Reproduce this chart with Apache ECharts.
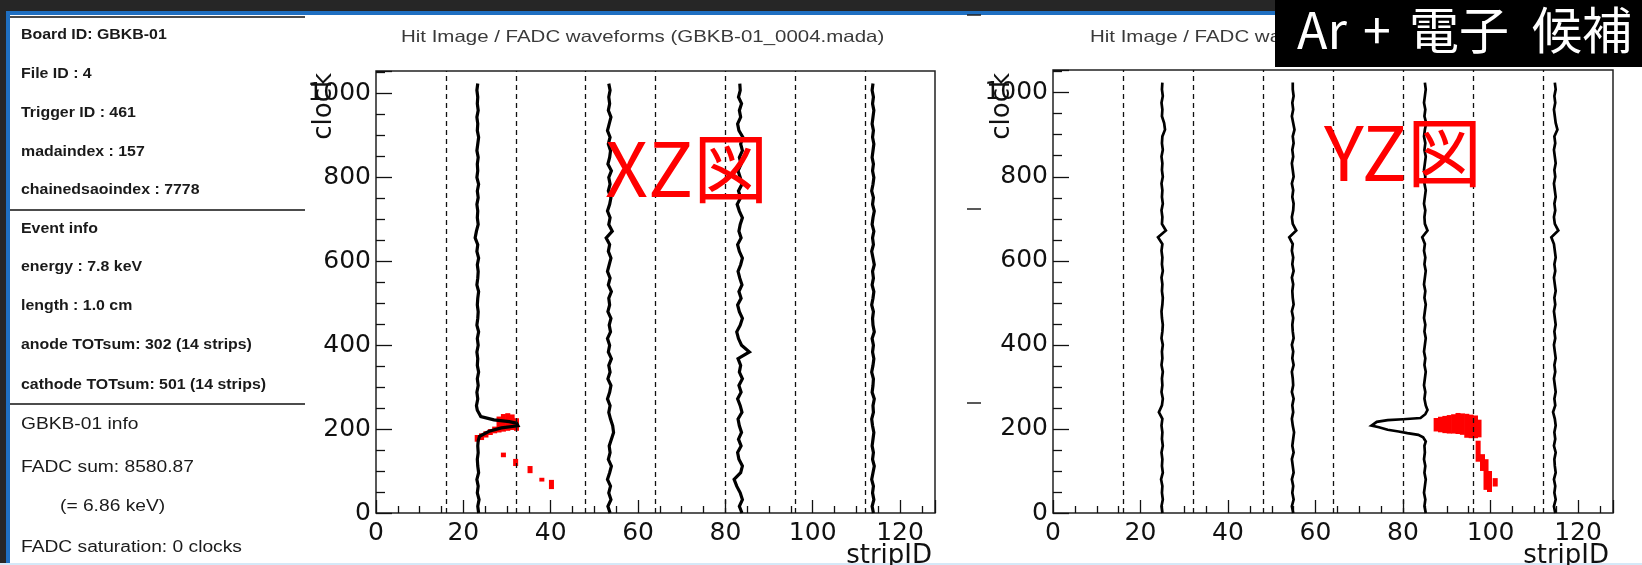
<!DOCTYPE html>
<html>
<head>
<meta charset="utf-8">
<script src="https://cdn.jsdelivr.net/npm/echarts@6/dist/echarts.min.js"></script>
<style>
html, body { margin: 0; padding: 0; background: #fff; }
#main { width: 1642px; height: 565px; }
</style>
</head>
<body>
<div id="main"></div>
<script>
// FADC sample clocks (every 16 clocks)
const waveClock = [0, 16, 32, 48, 64, 80, 96, 112, 128, 144, 160, 176, 192, 208, 224, 240, 256,
  272, 288, 304, 320, 336, 352, 368, 384, 400, 416, 432, 448, 464, 480, 496, 512,
  528, 544, 560, 576, 592, 608, 624, 640, 656, 672, 688, 704, 720, 736, 752, 768,
  784, 800, 816, 832, 848, 864, 880, 896, 912, 928, 944, 960, 976, 992, 1008, 1024];

// XZ waveforms: strip position of the trace at each clock
const xzWave1 = [23.5, 23.3, 23.6, 23.2, 23.4, 23.1, 23.5, 23.3, 23.2, 23.4,
  23.3, 23.3, 23.3, 23.3, 23.3, 23.3, 23.0, 23.3, 23.1, 23.4,
  23.2, 23.5, 23.2, 23.3, 23.1, 23.4, 23.2, 23.5, 23.1, 23.3,
  23.4, 23.2, 23.3, 23.5, 23.1, 23.3, 23.4, 23.2, 23.5, 23.1,
  23.3, 22.7, 23.0, 23.4, 23.2, 23.3, 23.1, 23.4, 23.2, 23.5,
  23.1, 23.3, 23.2, 23.4, 23.1, 23.3, 23.5, 23.2, 23.3, 23.1,
  23.4, 23.2, 23.3, 23.1, 23.3];
const xzWave2 = [53.6, 53.1, 53.8, 53.3, 53.7, 53.0, 53.5, 53.9, 53.2, 53.6,
  53.4, 53.9, 54.4, 54.2, 53.7, 53.3, 53.6, 53.0, 53.5, 53.8,
  53.1, 53.6, 53.3, 53.9, 53.2, 53.5, 53.0, 53.7, 53.4, 53.8,
  53.1, 53.5, 53.3, 53.9, 53.2, 53.6, 53.0, 53.4, 53.8, 53.2,
  53.5, 52.7, 54.1, 53.3, 53.6, 53.0, 53.5, 53.8, 53.2, 53.6,
  53.3, 53.9, 53.1, 53.5, 53.7, 53.2, 53.6, 53.0, 53.4, 53.8,
  53.2, 53.5, 53.3, 53.6, 53.3];
const xzWave3 = [83.8, 83.2, 83.9, 83.4, 82.6, 82.0, 83.5, 83.9, 83.1, 82.8,
  83.6, 83.0, 83.7, 83.2, 82.9, 83.8, 83.4, 82.8, 83.6, 83.1,
  83.9, 83.2, 83.5, 82.9, 85.5, 83.7, 83.0, 82.6, 83.4, 83.9,
  83.2, 82.8, 83.6, 83.1, 83.8, 83.3, 82.9, 83.5, 83.9, 83.2,
  82.8, 83.6, 83.1, 83.4, 83.9, 83.2, 82.7, 83.5, 83.0, 83.8,
  83.4, 82.9, 83.6, 83.2, 83.9, 83.5, 84.0, 83.1, 82.8, 83.5,
  83.2, 83.7, 83.0, 83.4, 83.3];
const xzWave4 = [113.9, 113.6, 114.0, 113.7, 113.9, 113.5, 113.8, 114.1, 113.7, 113.9,
  113.6, 113.8, 114.0, 113.7, 113.5, 113.9, 113.8, 114.1, 113.6, 113.8,
  113.9, 113.5, 113.8, 114.0, 113.7, 113.9, 113.6, 114.1, 113.8, 113.7,
  113.9, 113.5, 113.8, 114.0, 113.6, 113.9, 113.7, 114.1, 113.8, 113.5,
  113.9, 113.7, 114.0, 113.6, 113.8, 114.1, 113.7, 113.9, 113.5, 113.8,
  114.0, 113.7, 113.9, 113.6, 113.8, 114.0, 113.7, 113.9, 113.6, 113.8,
  114.0, 113.7, 113.9, 113.6, 113.8];
// pulse on the first XZ trace [strip, clock]
const xzPulse = [[23.3, 160], [23.4, 172], [23.7, 183], [25.9, 195], [28.7, 203], [32.5, 208], [32.2, 214],
  [30.5, 218], [27.0, 222], [24.0, 230], [23.2, 245], [23.0, 256]];

// YZ waveforms
const yzWave1 = [25.0, 24.8, 25.1, 24.9, 25.0, 24.7, 25.1, 24.9, 25.0, 24.8,
  25.1, 24.9, 25.0, 24.8, 25.0, 24.2, 24.9, 25.1, 24.8, 25.0,
  24.9, 25.1, 24.8, 25.0, 24.9, 25.1, 24.8, 25.0, 25.1, 24.9,
  24.8, 25.0, 25.1, 24.9, 25.0, 24.8, 25.1, 24.9, 25.0, 24.8,
  25.0, 24.0, 25.8, 24.9, 25.0, 24.8, 25.1, 24.9, 25.0, 24.8,
  25.1, 24.9, 25.0, 24.8, 25.1, 24.9, 25.0, 25.6, 25.4, 24.9,
  25.0, 24.8, 25.1, 24.9, 25.0];
const yzWave2 = [54.9, 54.6, 55.0, 54.7, 54.9, 54.6, 55.0, 54.8, 54.6, 55.0,
  54.7, 54.9, 55.1, 54.8, 54.6, 54.9, 54.7, 55.0, 54.6, 54.9,
  54.8, 54.6, 55.0, 54.7, 54.9, 54.6, 55.0, 54.8, 54.7, 54.9,
  54.6, 55.0, 54.8, 54.7, 54.9, 54.6, 55.0, 54.7, 54.9, 54.6,
  54.8, 54.0, 55.6, 54.8, 54.6, 54.9, 55.0, 54.7, 54.9, 54.6,
  55.0, 54.8, 54.6, 54.9, 54.7, 55.0, 54.8, 55.2, 54.9, 54.6,
  54.9, 54.7, 55.0, 54.8, 54.8];
const yzWave3 = [85.2, 84.9, 85.1, 84.8, 85.0, 85.2, 84.9, 85.1, 84.8, 85.0,
  85.0, 85.0, 85.0, 85.0, 85.0, 85.0, 85.2, 84.9, 85.1, 84.8,
  85.0, 85.2, 84.9, 85.1, 84.8, 85.0, 85.2, 84.9, 85.1, 84.8,
  85.0, 85.2, 84.9, 85.1, 84.8, 85.0, 85.2, 84.9, 85.1, 84.8,
  85.0, 84.4, 85.6, 85.0, 84.9, 85.1, 84.8, 85.0, 85.2, 84.9,
  85.1, 84.8, 85.0, 85.2, 84.9, 85.1, 84.8, 85.0, 85.3, 84.9,
  85.1, 84.8, 85.0, 85.2, 85.0];
const yzWave4 = [114.8, 114.5, 114.9, 114.6, 114.8, 114.5, 114.9, 114.7, 114.6, 114.9,
  114.5, 114.8, 114.6, 114.9, 114.7, 114.3, 114.8, 114.6, 114.9, 114.7,
  114.5, 114.8, 114.6, 114.9, 114.7, 114.5, 114.8, 114.6, 114.9, 114.7,
  114.5, 114.8, 114.6, 114.9, 114.7, 114.5, 114.8, 114.6, 114.9, 114.7,
  114.5, 113.9, 115.5, 114.7, 114.5, 114.8, 114.6, 114.9, 114.7, 114.5,
  114.8, 114.6, 114.9, 114.7, 114.5, 114.8, 114.6, 115.3, 114.9, 114.7,
  114.5, 114.8, 114.6, 114.9, 114.7];
const yzPulse = [[84.9, 160], [85.2, 170], [84.6, 180], [83.5, 186], [81.0, 190], [79.0, 194], [76.5, 198],
  [74.5, 204], [72.8, 208], [72.6, 212], [74.0, 217], [76.5, 221], [80.0, 223], [84.0, 226], [85.1, 235],
  [85.6, 245], [85.2, 256]];

// hit boxes [strip, clock from, clock to]
const xzHits = [[22.6, 170, 186], [23.6, 174, 190], [24.6, 180, 195], [25.6, 186, 200], [26.6, 190, 206],
  [27.6, 192, 230], [28.6, 194, 236], [29.6, 196, 238], [30.6, 198, 235], [31.6, 196, 226],
  [28.6, 133, 144], [31.4, 112, 129], [34.7, 95, 112], [37.4, 75, 84], [39.6, 57, 79]];
const yzHits = [[87, 194, 226], [88, 192, 229], [89, 190, 231], [90, 189, 233], [91, 189, 235], [92, 188, 238],
  [93, 186, 237], [94, 179, 236], [95, 178, 234], [96, 178, 232], [96.8, 180, 222],
  [96.6, 122, 172], [97.6, 100, 140], [98.4, 55, 128], [99.2, 50, 100], [100.5, 63, 83]];

const moduleEdges = [16, 32, 48, 64, 80, 96, 112];

const boardLines = ['Board ID: GBKB-01', 'File ID : 4', 'Trigger ID : 461', 'madaindex : 157', 'chainedsaoindex : 7778'];
const eventLines = ['Event info', 'energy : 7.8 keV', 'length : 1.0 cm', 'anode TOTsum: 302 (14 strips)', 'cathode TOTsum: 501 (14 strips)'];
const fadcLines = ['GBKB-01 info', 'FADC sum: 8580.87', '(= 6.86 keV)', 'FADC saturation: 0 clocks'];

const plotTitle = 'Hit Image / FADC waveforms (GBKB-01_0004.mada)';
const badgeParts = ['Ar', '+', '電子', '候補'];

function buildWave(strips, pulse) {
  const lo = pulse ? pulse[0][1] : Infinity;
  const hi = pulse ? pulse[pulse.length - 1][1] : -Infinity;
  const pts = [];
  waveClock.forEach((c, i) => {
    if (c < lo || c > hi) pts.push([strips[i], c]);
  });
  if (pulse) pulse.forEach(p => pts.push(p));
  return pts.sort((a, b) => a[1] - b[1]);
}

const tickStyle = { color: '#111', width: 1.3 };
const labelFont = { fontFamily: 'DejaVu Sans', fontSize: 25, color: '#111' };

function xAxisFor(gi) {
  return {
    type: 'value', gridIndex: gi, min: 0, max: 128, interval: 20,
    axisLine: { show: false },
    axisTick: { inside: true, length: 13, lineStyle: tickStyle },
    minorTick: { show: true, splitNumber: 4, length: 7, lineStyle: tickStyle },
    splitLine: { show: false },
    axisLabel: Object.assign({ margin: 8, showMaxLabel: false,
      formatter: v => (v % 20 === 0 ? String(v) : '') }, labelFont)
  };
}
function yAxisFor(gi) {
  return {
    type: 'value', gridIndex: gi, min: 0, max: 1054, interval: 200,
    axisLine: { show: false },
    axisTick: { inside: true, length: 16, lineStyle: tickStyle },
    minorTick: { show: true, splitNumber: 4, length: 9, lineStyle: tickStyle },
    splitLine: { show: false },
    axisLabel: Object.assign({ margin: 5, showMaxLabel: false,
      formatter: v => (v % 200 === 0 ? String(v) : '') }, labelFont)
  };
}

function waveSeries(gi, data, width, withEdges) {
  const s = {
    type: 'line', xAxisIndex: gi, yAxisIndex: gi, data: data, z: 3,
    showSymbol: false, silent: true, animation: false,
    lineStyle: { color: '#000', width: width, join: 'miter' }
  };
  if (withEdges) {
    s.markLine = {
      silent: true, symbol: ['none', 'none'], label: { show: false }, animation: false,
      lineStyle: { type: [5, 4], color: '#111', width: 1.3 },
      data: moduleEdges.map(v => ({ xAxis: v }))
    };
  }
  return s;
}

function hitSeries(gi, hits) {
  const hitWidth = 1.15;
  return {
    type: 'custom', xAxisIndex: gi, yAxisIndex: gi, z: 2, silent: true, animation: false,
    encode: { x: 0, y: [1, 2] },
    data: hits,
    renderItem: (params, api) => {
      const a = api.coord([api.value(0), api.value(2)]);
      const b = api.coord([api.value(0) + hitWidth, api.value(1)]);
      return {
        type: 'rect',
        shape: { x: a[0], y: a[1], width: b[0] - a[0], height: b[1] - a[1] },
        style: { fill: '#ff0000' }
      };
    }
  };
}

function text(x, y, str, font, fill, extra, align) {
  return Object.assign({
    type: 'text', x: x, y: y, z: 100,
    style: { text: str, font: font, fill: fill, textAlign: align || 'left', align: align || 'left',
      textVerticalAlign: 'middle', verticalAlign: 'middle' }
  }, extra || {});
}

const graphics = [
  { type: 'rect', shape: { x: 0, y: 0, width: 1642, height: 12 }, style: { fill: '#262626' } },
  { type: 'rect', shape: { x: 0, y: 0, width: 6, height: 565 }, style: { fill: '#262626' } },
  { type: 'rect', shape: { x: 6, y: 11, width: 1270, height: 4 }, style: { fill: '#1f6fc1' } },
  { type: 'rect', shape: { x: 6, y: 11, width: 4, height: 554 }, style: { fill: '#1f6fc1' } },
  { type: 'rect', shape: { x: 0, y: 563, width: 1642, height: 2 }, style: { fill: '#d5e9f8' } }
];
[17, 210, 404].forEach(y => {
  graphics.push({ type: 'line', shape: { x1: 10, y1: y, x2: 305, y2: y }, style: { stroke: '#111', lineWidth: 1.5 } });
});
[15, 209, 403].forEach(y => {
  graphics.push({ type: 'line', shape: { x1: 967, y1: y, x2: 981, y2: y }, style: { stroke: '#222', lineWidth: 1.5 } });
});
const boldFont = 'bold 15px "Liberation Sans"';
[35, 74, 113, 152, 190].forEach((y, i) => graphics.push(text(21, y, boardLines[i], boldFont, '#1a1a1a', { scaleX: 1.06 })));
[229, 267, 306, 345, 385].forEach((y, i) => graphics.push(text(21, y, eventLines[i], boldFont, '#1a1a1a', { scaleX: 1.06 })));
const plainFont = '16px "Liberation Sans"';
[[21, 425], [21, 468], [60, 507], [21, 548]].forEach((p, i) =>
  graphics.push(text(p[0], p[1], fadcLines[i], plainFont, '#1a1a1a', { scaleX: 1.2 })));

const titleFont = '16.5px "Liberation Sans"';
graphics.push(text(401, 37, plotTitle, titleFont, '#3a3a3a', { scaleX: 1.24 }));
graphics.push(text(1090, 37, plotTitle, titleFont, '#3a3a3a', { scaleX: 1.24 }));
const axisNameFont = '26px "DejaVu Sans"';
graphics.push(text(324, 73, 'clock', axisNameFont, '#111', { rotation: Math.PI / 2 }, 'right'));
graphics.push(text(1002, 73, 'clock', axisNameFont, '#111', { rotation: Math.PI / 2 }, 'right'));
graphics.push(text(932, 556, 'stripID', axisNameFont, '#111', null, 'right'));
graphics.push(text(1609, 556, 'stripID', axisNameFont, '#111', null, 'right'));
graphics.push(text(605, 168, 'XZ図', '75px "Noto Sans CJK JP"', '#ff0000'));
graphics.push(text(1324, 152, 'YZ図', '75px "Noto Sans CJK JP"', '#ff0000'));
graphics.push({ type: 'rect', z: 110, shape: { x: 1275, y: 0, width: 367, height: 67 }, style: { fill: '#000' } });
const badgeFont = '50px "Noto Sans CJK JP"';
[1297, 1363, 1409, 1532].forEach((x, i) => graphics.push(text(x, 30, badgeParts[i], badgeFont, '#fff', { z: 120 })));

const chart = echarts.init(document.getElementById('main'), null, { renderer: 'canvas' });
const option = {
  animation: false,
  backgroundColor: '#fff',
  grid: [
    { left: 376, right: 707, top: 71, bottom: 52, show: true, borderColor: '#222', borderWidth: 1.5, outerBoundsMode: 'none' },
    { left: 1053, right: 29, top: 70, bottom: 52, show: true, borderColor: '#222', borderWidth: 1.5, outerBoundsMode: 'none' }
  ],
  xAxis: [xAxisFor(0), xAxisFor(1)],
  yAxis: [yAxisFor(0), yAxisFor(1)],
  series: [
    hitSeries(0, xzHits),
    waveSeries(0, buildWave(xzWave1, xzPulse), 3.2, true),
    waveSeries(0, buildWave(xzWave2), 3.2),
    waveSeries(0, buildWave(xzWave3), 3.2),
    waveSeries(0, buildWave(xzWave4), 3.2),
    hitSeries(1, yzHits),
    waveSeries(1, buildWave(yzWave1), 2.7, true),
    waveSeries(1, buildWave(yzWave2), 2.7),
    waveSeries(1, buildWave(yzWave3, yzPulse), 2.7),
    waveSeries(1, buildWave(yzWave4), 2.7)
  ],
  graphic: graphics
};
chart.setOption(option);
</script>
</body>
</html>
